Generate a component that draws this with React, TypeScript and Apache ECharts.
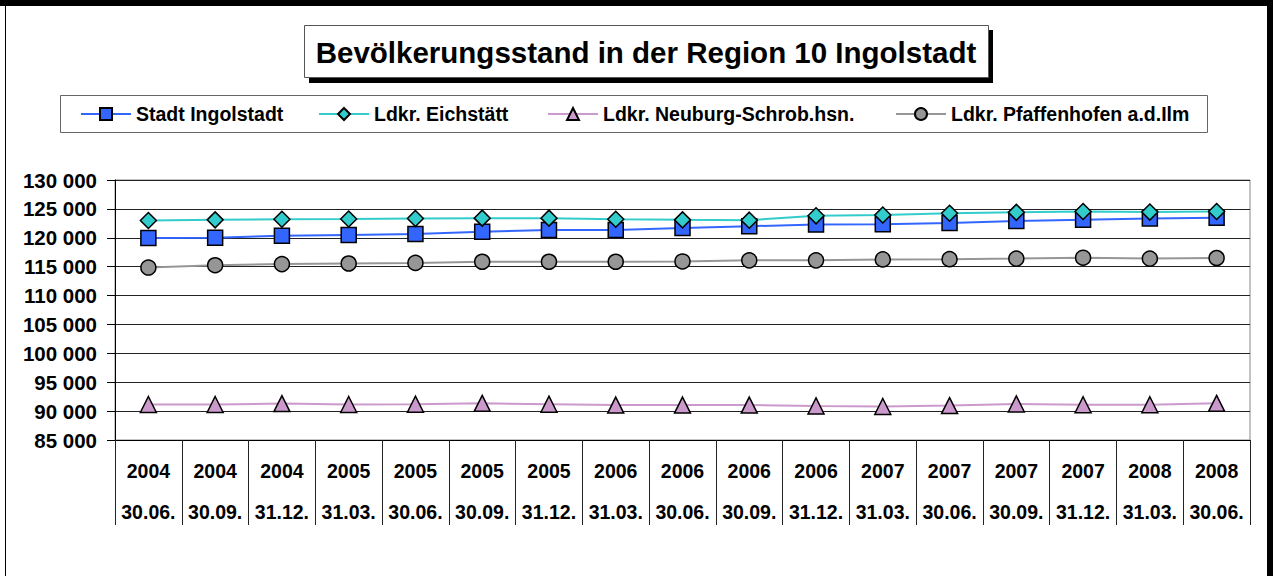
import React, { useEffect, useRef } from "react";
import * as echarts from "echarts";

const titleText = "Bevölkerungsstand in der Region 10 Ingolstadt";
const years = ["2004", "2004", "2004", "2005", "2005", "2005", "2005", "2006", "2006", "2006", "2006", "2007", "2007", "2007", "2007", "2008", "2008"];
const dates = ["30.06.", "30.09.", "31.12.", "31.03.", "30.06.", "30.09.", "31.12.", "31.03.", "30.06.", "30.09.", "31.12.", "31.03.", "30.06.", "30.09.", "31.12.", "31.03.", "30.06."];
const seriesNames = ["Stadt Ingolstadt", "Ldkr. Eichstätt", "Ldkr. Neuburg-Schrob.hsn.", "Ldkr. Pfaffenhofen a.d.Ilm"];
const ingolstadt = [119950, 120000, 120350, 120500, 120650, 121050, 121350, 121350, 121700, 122000, 122300, 122330, 122550, 122900, 123100, 123350, 123480];
const eichstaett = [123000, 123100, 123200, 123250, 123350, 123400, 123400, 123200, 123100, 123050, 123800, 123950, 124250, 124400, 124550, 124450, 124550];
const neuburg = [91150, 91150, 91300, 91150, 91200, 91350, 91200, 91050, 91050, 91050, 90900, 90800, 90950, 91250, 91100, 91100, 91350];
const pfaffenhofen = [114850, 115250, 115450, 115550, 115650, 115850, 115850, 115850, 115900, 116100, 116100, 116250, 116300, 116400, 116550, 116400, 116500];
const yMin = 85000;
const yMax = 130000;
const yStep = 5000;

const FONT = "'Liberation Sans', Arial, sans-serif";

export default function App() {
  const ref = useRef<HTMLDivElement>(null);
  useEffect(() => {
    if (!ref.current) return;
    const chart = echarts.init(ref.current, null, { renderer: "svg" });
    const categories = dates.map((d, i) => years[i] + " " + d);
    const values = [ingolstadt, eichstaett, neuburg, pfaffenhofen];
    const colors = ["#3366FF", "#33CCCC", "#CC99CC", "#969696"];
    const symbols = ["rect", "diamond", "triangle", "circle"];
    const sizes = [15, 16, 16, 15];
    const legendLefts = [80, 318, 547, 895];

    const series = values.map((v, i) => ({
      name: seriesNames[i],
      type: "line",
      data: v,
      symbol: symbols[i],
      symbolSize: sizes[i],
      showAllSymbol: true,
      lineStyle: { color: colors[i], width: 2 },
      itemStyle: { color: colors[i], borderColor: "#000", borderWidth: 1.5 },
      emphasis: { disabled: true },
    }));

    const legends = seriesNames.map((n, i) => ({
      data: [n],
      left: legendLefts[i],
      top: 104,
      padding: 0,
      itemGap: 0,
      itemWidth: 50,
      itemHeight: 15,
      selectedMode: false,
      textStyle: { fontFamily: FONT, fontWeight: "bold", fontSize: 19.5, color: "#000" },
    }));

    chart.setOption({
      animation: false,
      backgroundColor: "#fff",
      textStyle: { fontFamily: FONT },
      legend: legends,
      grid: {
        left: 115,
        top: 180,
        width: 1135,
        height: 260,
        show: true,
        borderColor: "#888",
        borderWidth: 1,
        backgroundColor: "transparent",
      },
      xAxis: {
        type: "category",
        data: categories,
        boundaryGap: true,
        axisLine: { lineStyle: { color: "#000", width: 1 } },
        axisTick: { show: true, length: 85, interval: 0, lineStyle: { color: "#222", width: 1 } },
        axisLabel: {
          interval: 0,
          margin: 10,
          formatter: (_v: string, i: number) => `{y|${years[i]}}\n{d|${dates[i]}}`,
          rich: {
            y: { fontFamily: FONT, fontWeight: "bold", fontSize: 19.5, lineHeight: 41, color: "#000" },
            d: { fontFamily: FONT, fontWeight: "bold", fontSize: 19.5, lineHeight: 41, color: "#000" },
          },
        },
      },
      yAxis: {
        type: "value",
        min: yMin,
        max: yMax,
        interval: yStep,
        axisLine: { show: true, lineStyle: { color: "#000", width: 1 } },
        axisTick: { show: true, length: 8, lineStyle: { color: "#000" } },
        splitLine: { show: true, lineStyle: { color: "#222", width: 1 } },
        axisLabel: {
          margin: 18,
          fontFamily: FONT,
          fontWeight: "bold",
          fontSize: 20.5,
          color: "#000",
          formatter: (v: number) => String(v).replace(/\B(?=(\d{3})+(?!\d))/g, " "),
        },
      },
      graphic: [
        { type: "rect", shape: { x: 0, y: 0, width: 1273, height: 6 }, style: { fill: "#000" }, z: 10 },
        { type: "rect", shape: { x: 1267, y: 0, width: 6, height: 576 }, style: { fill: "#000" }, z: 10 },
        { type: "rect", shape: { x: 5, y: 0, width: 1, height: 576 }, style: { fill: "#000" }, z: 10 },
        { type: "rect", shape: { x: 309, y: 30, width: 684, height: 53 }, style: { fill: "#000" }, z: 1 },
        { type: "rect", shape: { x: 304.5, y: 25.5, width: 684, height: 52 }, style: { fill: "#fff", stroke: "#555", lineWidth: 1 }, z: 2 },
        {
          type: "text",
          x: 646,
          y: 52,
          z: 3,
          style: {
            text: titleText,
            fontFamily: FONT,
            fontWeight: "bold",
            fontSize: 29.5,
            fill: "#000",
            textAlign: "center",
            textVerticalAlign: "middle",
          },
        },
        { type: "rect", shape: { x: 60.5, y: 95.5, width: 1147, height: 37 }, style: { fill: "#fff", stroke: "#666", lineWidth: 1 }, z: 0 },
      ],
      series,
    });
    return () => chart.dispose();
  }, []);
  return <div ref={ref} style={{ position: "fixed", left: 0, top: 0, width: 1273, height: 576 }} />;
}
